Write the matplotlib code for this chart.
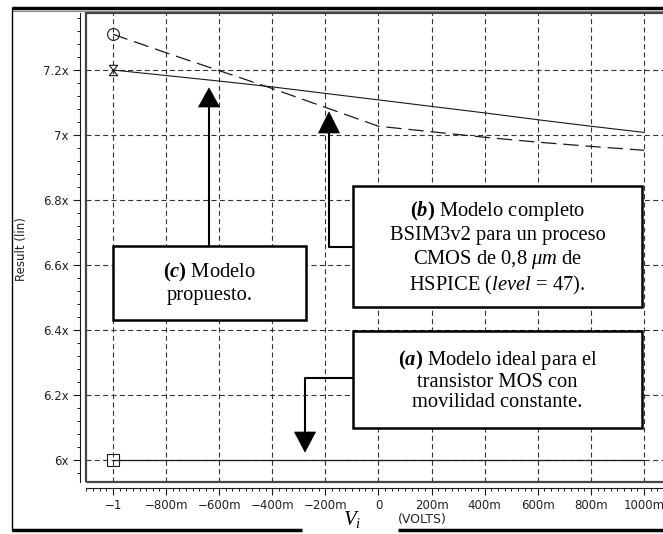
import matplotlib
matplotlib.use('Agg')
import matplotlib.pyplot as plt
from matplotlib.path import Path
from matplotlib.patches import Rectangle, Polygon
from matplotlib.ticker import FixedLocator, MultipleLocator

plt.rcParams['lines.scale_dashes'] = False
plt.rcParams['mathtext.fontset'] = 'custom'
plt.rcParams['mathtext.rm'] = 'Liberation Serif'
plt.rcParams['mathtext.it'] = 'Liberation Serif:italic'
plt.rcParams['mathtext.bf'] = 'Liberation Serif:bold'
plt.rcParams['mathtext.bfit'] = 'Liberation Serif:bold:italic'

# ---------------- data ----------------
vi = [-1.0, -0.8, -0.6, -0.4, -0.2, 0.0, 0.2, 0.4, 0.6, 0.8, 1.0]
model_a = [6.0, 6.0, 6.0, 6.0, 6.0, 6.0, 6.0, 6.0, 6.0, 6.0, 6.0]
model_b = [7.310, 7.253, 7.198, 7.143, 7.085, 7.027, 7.010, 6.993, 6.978, 6.965, 6.953]
model_c = [7.200, 7.183, 7.166, 7.148, 7.128, 7.108, 7.088, 7.068, 7.047, 7.027, 7.008]

x_ticks = [-1.0, -0.8, -0.6, -0.4, -0.2, 0.0, 0.2, 0.4, 0.6, 0.8, 1.0]
x_labels = ["\u22121", "\u2212800m", "\u2212600m", "\u2212400m", "\u2212200m", "0",
            "200m", "400m", "600m", "800m", "1000m"]
y_ticks = [6.0, 6.2, 6.4, 6.6, 6.8, 7.0, 7.2]
y_labels = ["6x", "6.2x", "6.4x", "6.6x", "6.8x", "7x", "7.2x"]

W, H = 663, 534
fig = plt.figure(figsize=(W / 100, H / 100), dpi=100)

# main axes (pixel geometry of the plot frame)
L, R, T, B = 86, 670, 13, 482
ax = fig.add_axes([L / W, (H - B) / H, (R - L) / W, (B - T) / H])
ax.set_xlim(-1.1017, 1.098)
ax.set_ylim(5.9323, 7.3754)

ink = '#1a1a1a'
ax.plot(vi, model_a, color=ink, lw=0.9, zorder=3)
ax.plot(vi, model_c, color=ink, lw=0.8, zorder=3)
ax.plot(vi, model_b, color=ink, lw=0.9, linestyle=(0, (11, 5)), zorder=3)

hourglass = Path([(-0.8, 1), (0.8, 1), (-0.8, -1), (0.8, -1), (-0.8, 1)],
                 [Path.MOVETO, Path.LINETO, Path.LINETO, Path.LINETO, Path.LINETO])
ax.plot(vi[0], model_b[0], marker='o', ms=8.5, mfc='none', mec=ink, mew=0.8, zorder=4)
ax.plot(vi[0], model_c[0], marker=hourglass, ms=7.5, mfc='none', mec=ink, mew=0.8, zorder=4)
ax.plot(vi[0], model_a[0], marker='s', ms=8.0, mfc='none', mec=ink, mew=0.8, zorder=4)

ax.grid(True, which='major', color='#333333', lw=0.8, linestyle=(0, (3.6, 2.4)))

for s in ['top', 'right']:
    ax.spines[s].set_visible(False)
for s in ['left', 'bottom']:
    ax.spines[s].set_position(('outward', 4.3))
    ax.spines[s].set_color(ink)
    ax.spines[s].set_linewidth(0.8)

ax.xaxis.set_major_locator(FixedLocator(x_ticks))
ax.set_xticklabels(x_labels)
ax.yaxis.set_major_locator(FixedLocator(y_ticks))
ax.set_yticklabels(y_labels)
ax.xaxis.set_minor_locator(MultipleLocator(0.025))
ax.yaxis.set_minor_locator(MultipleLocator(0.04))
ax.tick_params(which='major', direction='out', length=5, width=0.8, color=ink,
               labelsize=8.5, labelcolor='#222222', pad=3)
ax.tick_params(which='minor', direction='out', length=2.5, width=0.7, color=ink)

ax.add_patch(Rectangle((0, 0), 1, 1, transform=ax.transAxes, fill=False,
                       ec='#444444', lw=1.6, clip_on=False, zorder=5))

fig.text(21 / W, 1 - 249 / H, 'Result (lin)', rotation=90, ha='center', va='center',
         fontsize=8.5, color='#222222')

# overlay in pixel coordinates for annotations and border
ov = fig.add_axes([0, 0, 1, 1], zorder=10)
ov.set_xlim(0, W)
ov.set_ylim(H, 0)
ov.axis('off')
ov.patch.set_alpha(0)

serif = 'Liberation Serif'
fs = 14.8

# box (c)
ov.add_patch(Rectangle((113, 246), 193, 74, fc='white', ec='black', lw=1.8))
ov.text(209.5, 283, "$\\mathbf{(}\\mathbfit{c}\\mathbf{)}$ Modelo\npropuesto.",
        ha='center', va='center', fontsize=fs, family=serif, linespacing=1.15)
ov.plot([209, 209], [246, 105], color='black', lw=1.5)
ov.add_patch(Polygon([(209, 88), (198.5, 107), (219.5, 107)], closed=True, fc='black', ec='black', lw=0.5))

# box (b)
ov.add_patch(Rectangle((353, 186), 289, 121, fc='white', ec='black', lw=1.8))
ov.text(497.5, 248,
        "$\\mathbf{(}\\mathbfit{b}\\mathbf{)}$ Modelo completo\n"
        "BSIM3v2 para un proceso\n"
        "CMOS de 0,8 $\\mathit{\\mu m}$ de\n"
        "HSPICE ($\\mathit{level}$ = 47).",
        ha='center', va='center', fontsize=fs, family=serif, linespacing=1.2)
ov.plot([353, 329, 329], [247, 247, 131], color='black', lw=1.5)
ov.add_patch(Polygon([(329, 112), (318.5, 133), (339.5, 133)], closed=True, fc='black', ec='black', lw=0.5))

# box (a)
ov.add_patch(Rectangle((353, 331), 289, 97, fc='white', ec='black', lw=1.8))
ov.text(497.5, 380,
        "$\\mathbf{(}\\mathbfit{a}\\mathbf{)}$ Modelo ideal para el\n"
        "transistor MOS con\n"
        "movilidad constante.",
        ha='center', va='center', fontsize=fs, family=serif, linespacing=1.1)
ov.plot([353, 305, 305], [378, 378, 434], color='black', lw=1.5)
ov.add_patch(Polygon([(305, 452), (294.5, 432), (315.5, 432)], closed=True, fc='black', ec='black', lw=0.5))

# axis captions
ov.text(352, 520, r'$V_i$', fontsize=15, ha='center', va='center')
ov.text(398, 519, '(VOLTS)', fontsize=9, ha='left', va='center', color='#222222')

# outer border of the scanned figure
ov.plot([12, 663], [8, 8], color='black', lw=2.5, solid_capstyle='butt')
ov.plot([12, 663], [11, 11], color='#888888', lw=0.8, solid_capstyle='butt')
ov.plot([12, 12], [7, 531], color='black', lw=1.0, solid_capstyle='butt')
ov.plot([12, 302], [530, 530], color='black', lw=2.5, solid_capstyle='butt')
ov.plot([398, 663], [530, 530], color='black', lw=2.5, solid_capstyle='butt')

fig.savefig('out.png', dpi=100)
